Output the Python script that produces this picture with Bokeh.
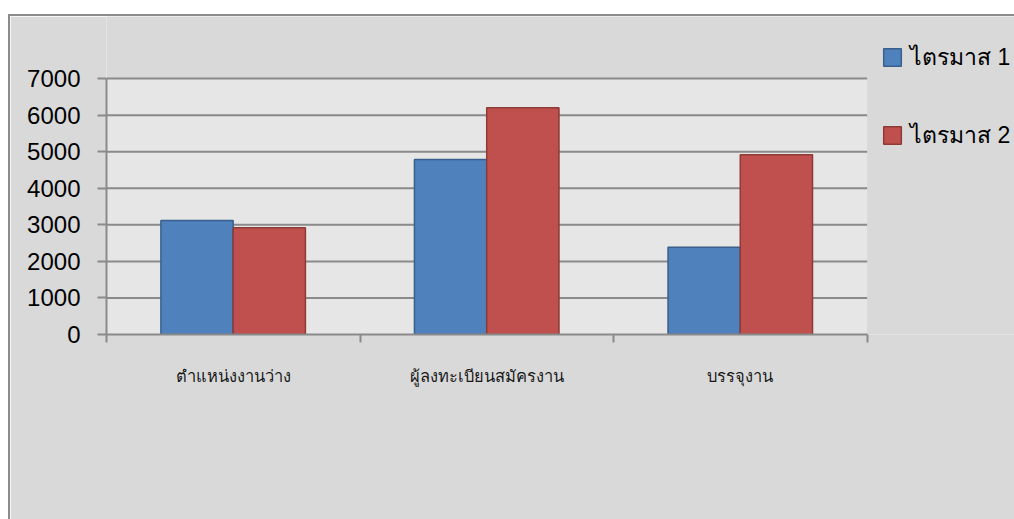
import numpy as np
from bokeh.plotting import figure
from bokeh.models import Range1d, FixedTicker, Legend, LegendItem, ColumnDataSource, BoxAnnotation
from bokeh.embed import file_html
from bokeh.resources import INLINE

categories = ["ตำแหน่งงานว่าง", "ผู้ลงทะเบียนสมัครงาน", "บรรจุงาน"]
series_names = ["ไตรมาส 1", "ไตรมาส 2"]
q1 = [3120, 4790, 2390]
q2 = [2920, 6200, 4920]
y_ticks = [0, 1000, 2000, 3000, 4000, 5000, 6000, 7000]
y_max = 7000

n = len(categories)
centers = np.arange(n) + 0.5
bw = 0.285
src = ColumnDataSource(dict(x1=centers - 0.143, x2=centers + 0.142, q1=q1, q2=q2))
grid_src = ColumnDataSource(dict(x0=[0] * (len(y_ticks) - 1), x1=[n] * (len(y_ticks) - 1),
                                 y=y_ticks[1:]))

# frame extends over the whole canvas right/top; the plot area is drawn as a box
p = figure(width=1006, height=505, output_backend="svg", toolbar_location=None,
           x_range=Range1d(0, n * 908 / 759), y_range=Range1d(0, y_max * 316 / 254.3),
           min_border_left=96, min_border_right=0, min_border_top=0, min_border_bottom=187)
p.styles = {"margin-left": "8px", "margin-top": "14px",
            "border-top": "2px solid #8c8c8c", "border-left": "2px solid #8c8c8c"}
p.background_fill_color = "#d9d9d9"
p.border_fill_color = "#d9d9d9"
p.outline_line_color = None
p.xgrid.grid_line_color = None
p.ygrid.grid_line_color = None

p.add_layout(BoxAnnotation(left=0, right=n, bottom=0, top=y_max, fill_color="#e6e6e6",
                           fill_alpha=1, line_color=None, level="underlay"))
p.segment(x0="x0", x1="x1", y0="y", y1="y", source=grid_src, line_color="#8a8a8a", line_width=2)

r1 = p.vbar(x="x1", top="q1", width=bw, source=src, fill_color="#4f81bd",
            line_color="#3b5f8c", line_width=1.5)
r2 = p.vbar(x="x2", top="q2", width=bw, source=src, fill_color="#c0504d",
            line_color="#8e3a37", line_width=1.5)

ya = p.yaxis[0]
ya.ticker = FixedTicker(ticks=y_ticks)
ya.bounds = (0, y_max)
ya.axis_line_color = "#8a8a8a"
ya.axis_line_width = 2
ya.major_tick_line_color = "#8a8a8a"
ya.major_tick_line_width = 2
ya.major_tick_out = 9
ya.major_tick_in = 0
ya.minor_tick_line_color = None
ya.major_label_standoff = 17
ya.major_label_text_font = "Liberation Sans"
ya.major_label_text_font_size = "24px"
ya.major_label_text_color = "black"

xa = p.xaxis[0]
xa.ticker = FixedTicker(ticks=list(centers), minor_ticks=list(range(n + 1)))
xa.bounds = (0, n)
xa.major_label_overrides = {float(c): categories[i] for i, c in enumerate(centers)}
xa.axis_line_color = "#8a8a8a"
xa.axis_line_width = 2
xa.major_tick_line_color = None
xa.major_tick_out = 0
xa.major_tick_in = 0
xa.minor_tick_line_color = "#8a8a8a"
xa.minor_tick_line_width = 2
xa.minor_tick_out = 8
xa.minor_tick_in = 0
xa.major_label_standoff = 24
xa.major_label_text_font = "Liberation Sans"
xa.major_label_text_font_size = "16.5px"
xa.major_label_text_color = "#1a1a1a"

legend = Legend(items=[LegendItem(label=series_names[0], renderers=[r1]),
                       LegendItem(label=series_names[1], renderers=[r2])],
                location=(775, 181))
legend.background_fill_alpha = 0
legend.border_line_color = None
legend.padding = 0
legend.margin = 0
legend.glyph_width = 22
legend.glyph_height = 22
legend.label_height = 20
legend.label_standoff = 7
legend.spacing = 42
legend.label_text_font = "Liberation Sans"
legend.label_text_font_size = "23px"
legend.label_text_color = "black"
p.add_layout(legend, "center")

open("out.html", "w").write(file_html(p, INLINE))
